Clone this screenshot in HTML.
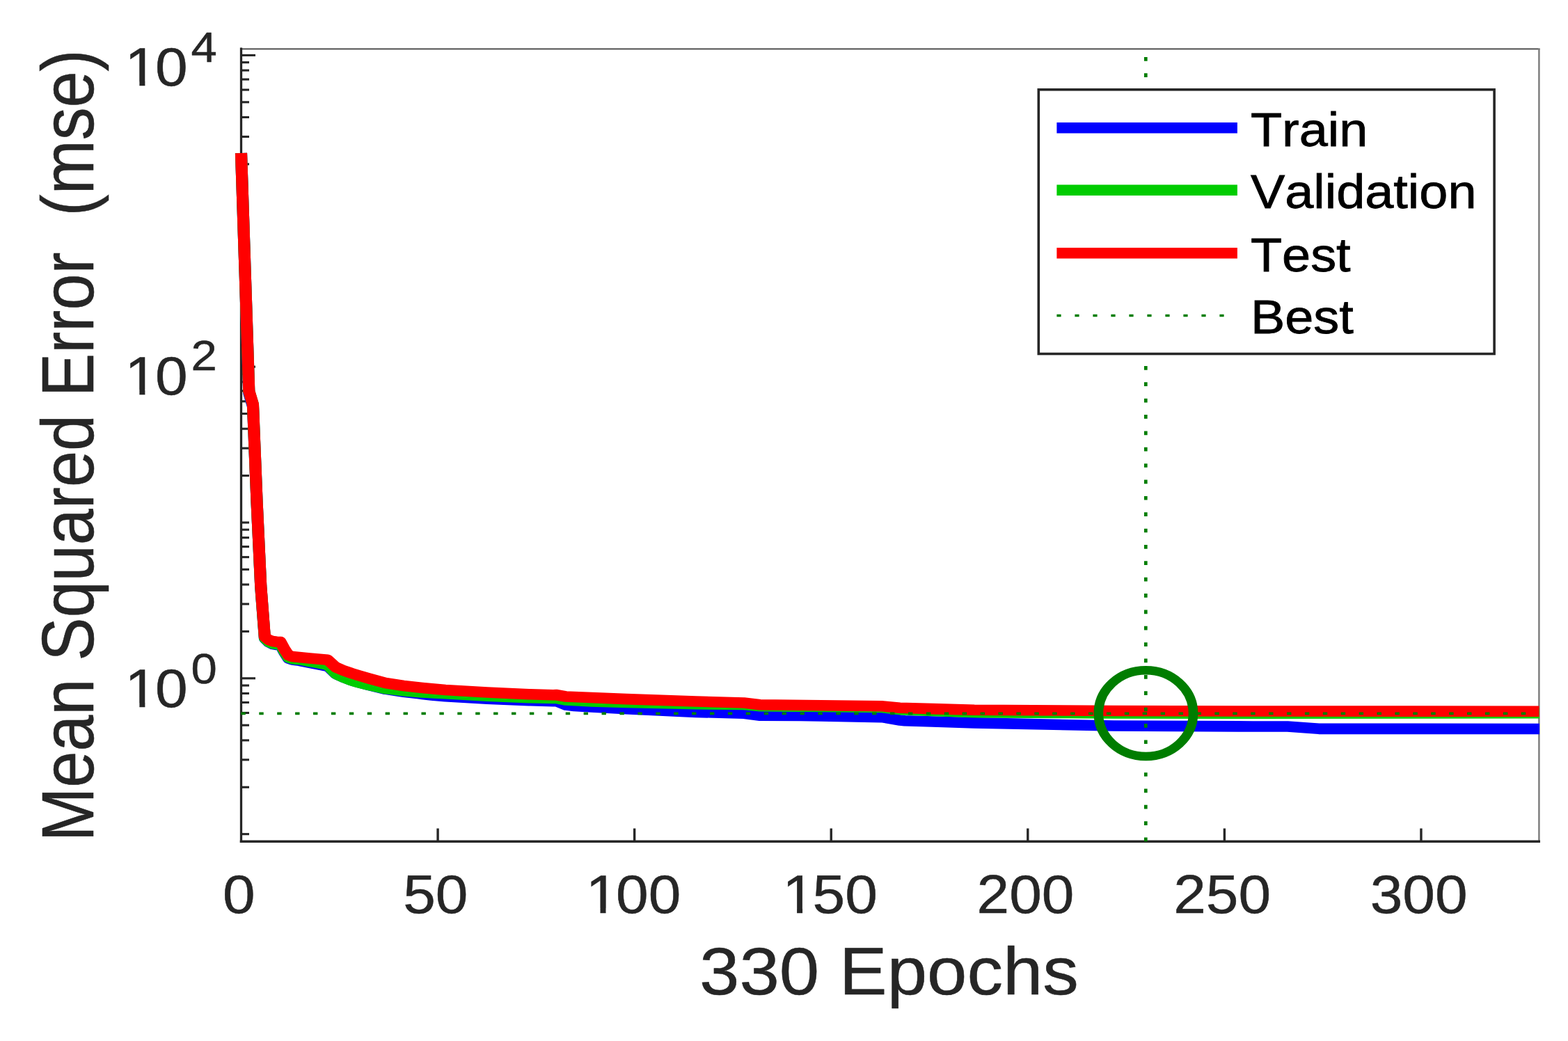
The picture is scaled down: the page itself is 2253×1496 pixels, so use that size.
<!DOCTYPE html>
<html lang="en"><head><meta charset="utf-8"><title>Training performance</title>
<style>html,body{margin:0;padding:0;background:#fff}svg{display:block}text{font-family:"Liberation Sans", sans-serif;font-kerning:none}</style>
</head><body>
<svg width="2253" height="1496" viewBox="0 0 2253 1496" role="img" aria-label="Training performance: mean squared error versus epoch">
<rect width="2253" height="1496" fill="#fff"/>
<g fill="none" stroke-linecap="butt">
<line x1="346" y1="70.4" x2="2212.6" y2="70.4" stroke="#3c3c3c" stroke-width="1.7"/>
<line x1="2211.4" y1="70" x2="2211.4" y2="1209" stroke="#7a7a7a" stroke-width="2.4"/>
</g>
<g stroke="#262626" stroke-linecap="butt">
<line x1="346" y1="1198.65" x2="358" y2="1198.65" stroke-width="3.1"/>
<line x1="346" y1="1131.26" x2="358" y2="1131.26" stroke-width="3.1"/>
<line x1="346" y1="1091.85" x2="358" y2="1091.85" stroke-width="3.1"/>
<line x1="346" y1="1063.88" x2="358" y2="1063.88" stroke-width="3.1"/>
<line x1="346" y1="1042.19" x2="358" y2="1042.19" stroke-width="3.1"/>
<line x1="346" y1="1024.46" x2="358" y2="1024.46" stroke-width="3.1"/>
<line x1="346" y1="1009.47" x2="358" y2="1009.47" stroke-width="3.1"/>
<line x1="346" y1="996.49" x2="358" y2="996.49" stroke-width="3.1"/>
<line x1="346" y1="985.04" x2="358" y2="985.04" stroke-width="3.1"/>
<line x1="346" y1="974.80" x2="367" y2="974.80" stroke-width="3.1"/>
<line x1="346" y1="907.41" x2="358" y2="907.41" stroke-width="3.1"/>
<line x1="346" y1="868.00" x2="358" y2="868.00" stroke-width="3.1"/>
<line x1="346" y1="840.03" x2="358" y2="840.03" stroke-width="3.1"/>
<line x1="346" y1="818.34" x2="358" y2="818.34" stroke-width="3.1"/>
<line x1="346" y1="800.61" x2="358" y2="800.61" stroke-width="3.1"/>
<line x1="346" y1="785.62" x2="358" y2="785.62" stroke-width="3.1"/>
<line x1="346" y1="772.64" x2="358" y2="772.64" stroke-width="3.1"/>
<line x1="346" y1="761.19" x2="358" y2="761.19" stroke-width="3.1"/>
<line x1="346" y1="750.95" x2="358" y2="750.95" stroke-width="3.1"/>
<line x1="346" y1="683.56" x2="358" y2="683.56" stroke-width="3.1"/>
<line x1="346" y1="644.15" x2="358" y2="644.15" stroke-width="3.1"/>
<line x1="346" y1="616.18" x2="358" y2="616.18" stroke-width="3.1"/>
<line x1="346" y1="594.49" x2="358" y2="594.49" stroke-width="3.1"/>
<line x1="346" y1="576.76" x2="358" y2="576.76" stroke-width="3.1"/>
<line x1="346" y1="561.77" x2="358" y2="561.77" stroke-width="3.1"/>
<line x1="346" y1="548.79" x2="358" y2="548.79" stroke-width="3.1"/>
<line x1="346" y1="537.34" x2="358" y2="537.34" stroke-width="3.1"/>
<line x1="346" y1="527.10" x2="367" y2="527.10" stroke-width="3.1"/>
<line x1="346" y1="459.71" x2="358" y2="459.71" stroke-width="3.1"/>
<line x1="346" y1="420.30" x2="358" y2="420.30" stroke-width="3.1"/>
<line x1="346" y1="392.33" x2="358" y2="392.33" stroke-width="3.1"/>
<line x1="346" y1="370.64" x2="358" y2="370.64" stroke-width="3.1"/>
<line x1="346" y1="352.91" x2="358" y2="352.91" stroke-width="3.1"/>
<line x1="346" y1="337.92" x2="358" y2="337.92" stroke-width="3.1"/>
<line x1="346" y1="324.94" x2="358" y2="324.94" stroke-width="3.1"/>
<line x1="346" y1="313.49" x2="358" y2="313.49" stroke-width="3.1"/>
<line x1="346" y1="303.25" x2="358" y2="303.25" stroke-width="3.1"/>
<line x1="346" y1="235.86" x2="358" y2="235.86" stroke-width="3.1"/>
<line x1="346" y1="196.45" x2="358" y2="196.45" stroke-width="3.1"/>
<line x1="346" y1="168.48" x2="358" y2="168.48" stroke-width="3.1"/>
<line x1="346" y1="146.79" x2="358" y2="146.79" stroke-width="3.1"/>
<line x1="346" y1="129.06" x2="358" y2="129.06" stroke-width="3.1"/>
<line x1="346" y1="114.07" x2="358" y2="114.07" stroke-width="3.1"/>
<line x1="346" y1="101.09" x2="358" y2="101.09" stroke-width="3.1"/>
<line x1="346" y1="89.64" x2="358" y2="89.64" stroke-width="3.1"/>
<line x1="346" y1="79.40" x2="367" y2="79.40" stroke-width="3.1"/>
<line x1="629.08" y1="1209" x2="629.08" y2="1190.5" stroke-width="3.4"/>
<line x1="911.65" y1="1209" x2="911.65" y2="1190.5" stroke-width="3.4"/>
<line x1="1194.23" y1="1209" x2="1194.23" y2="1190.5" stroke-width="3.4"/>
<line x1="1476.80" y1="1209" x2="1476.80" y2="1190.5" stroke-width="3.4"/>
<line x1="1759.38" y1="1209" x2="1759.38" y2="1190.5" stroke-width="3.4"/>
<line x1="2041.95" y1="1209" x2="2041.95" y2="1190.5" stroke-width="3.4"/>
</g>
<g stroke="#262626" fill="none">
<line x1="346.5" y1="68.6" x2="346.5" y2="1211" stroke-width="3.3"/>
<line x1="344.8" y1="1209.2" x2="2213" y2="1209.2" stroke-width="3.6"/>
</g>
<g transform="scale(1.1,1)" fill="none" stroke-width="15.6" stroke-linejoin="round" stroke-linecap="butt">
<path stroke="#0000ff" d="M315.00 220.00 L315.05 222.00 L320.14 392.00 L325.27 565.00 L330.41 584.00 L335.55 722.50 L340.68 843.03 L345.82 917.13 L350.91 922.72 L356.09 925.53 L361.27 926.45 L366.36 926.86 L371.55 937.37 L376.64 945.99 L381.82 948.10 L390.91 949.30 L404.55 952.38 L425.45 956.76 L428.00 957.14 L438.27 968.11 L440.00 969.02 L448.55 973.34 L458.82 977.52 L461.82 978.62 L469.09 980.87 L481.82 984.56 L503.55 990.36 L505.45 990.62 L527.27 994.35 L545.45 996.62 L551.82 997.50 L563.64 998.88 L581.82 1000.80 L636.36 1004.15 L690.91 1006.69 L722.73 1007.60 L726.36 1007.40 L739.09 1013.10 L750.00 1014.50 L772.73 1015.93 L818.18 1018.67 L909.09 1023.40 L971.82 1025.20 L992.73 1028.20 L1045.45 1028.42 L1072.73 1029.01 L1151.82 1030.60 L1175.45 1034.97 L1181.82 1035.71 L1218.18 1037.06 L1272.73 1038.90 L1454.55 1043.00 L1636.36 1044.00 L1681.82 1044.02 L1722.73 1047.35 L2010.45 1047.50 L2010.91 1047.50"/>
<path stroke="#00cc00" d="M315.00 220.01 L315.05 222.01 L320.14 392.12 L325.27 562.23 L330.41 581.34 L335.55 722.44 L340.68 842.93 L345.82 916.81 L350.91 922.18 L356.09 924.80 L361.27 925.58 L366.36 925.87 L371.55 936.25 L376.64 944.74 L381.82 946.73 L390.91 947.70 L404.55 950.55 L409.09 951.43 L425.45 954.76 L428.00 955.49 L438.27 967.87 L440.00 969.02 L448.55 973.41 L458.82 977.69 L461.82 978.82 L469.09 980.97 L481.82 984.50 L503.55 989.62 L505.45 989.82 L527.27 992.85 L545.45 994.52 L551.82 995.02 L563.64 995.68 L581.82 996.80 L636.36 1000.11 L690.91 1002.61 L722.73 1003.50 L726.36 1003.34 L739.09 1006.00 L772.73 1007.93 L818.18 1009.43 L909.09 1011.70 L971.82 1012.50 L992.73 1014.70 L1045.45 1015.12 L1072.73 1015.50 L1151.82 1016.50 L1175.45 1019.61 L1181.82 1020.01 L1218.18 1021.56 L1272.73 1023.70 L1454.55 1024.85 L1636.36 1025.20 L2010.45 1024.70 L2010.91 1024.70"/>
<path stroke="#ff0000" d="M315.00 220.00 L315.05 222.00 L320.14 392.00 L325.27 562.00 L330.41 581.00 L335.55 722.00 L340.68 842.00 L345.82 915.00 L350.91 919.50 L356.09 921.50 L361.27 922.30 L366.36 922.60 L371.55 933.00 L376.64 941.50 L381.82 943.50 L404.55 946.00 L428.00 948.20 L438.27 958.60 L448.55 963.50 L458.82 967.40 L469.09 970.90 L481.82 975.00 L503.55 981.50 L527.27 985.50 L551.82 988.50 L581.82 991.50 L636.36 995.00 L690.91 997.70 L722.73 998.70 L726.36 998.50 L739.09 1001.00 L818.18 1004.60 L909.09 1008.00 L971.82 1010.00 L992.73 1012.70 L1072.73 1013.80 L1151.82 1014.80 L1175.45 1017.20 L1218.18 1018.60 L1272.73 1020.20 L1454.55 1021.50 L1636.36 1022.00 L2010.45 1022.20"/>
</g>
<g fill="none" stroke="#007d00">
<line x1="346.4" y1="1025.40" x2="2211.5" y2="1025.40" stroke-width="3.8" stroke-dasharray="6.4 19.507"/>
<line x1="1646.30" y1="1209.3" x2="1646.30" y2="70.4" stroke-width="4.7" stroke-dasharray="5.7 17.667"/>
</g>
<g transform="scale(1.1,1)" fill="none" stroke="#007d00">
<circle cx="1496.77" cy="1025.10" r="61.9" stroke-width="12.4"/>
</g>
<rect x="1492.3" y="128.8" width="654.8" height="379.7" fill="#fff" stroke="#262626" stroke-width="3.6"/>
<g fill="none" stroke-width="15.4">
<line x1="1518.4" y1="183.7" x2="1777.9" y2="183.7" stroke="#0000ff"/>
<line x1="1518.4" y1="273.2" x2="1777.9" y2="273.2" stroke="#00cc00"/>
<line x1="1518.4" y1="363.7" x2="1777.9" y2="363.7" stroke="#ff0000"/>
<line x1="1518.4" y1="453.5" x2="1777.9" y2="453.5" stroke="#007d00" stroke-width="3.6" stroke-dasharray="6.2 19.8"/>
</g>
<text transform="translate(1796.90 210.20) scale(1.1,1.02)" font-size="67.20" fill="#000" stroke="#000" stroke-width="0.8" text-anchor="start">Train</text>
<text transform="translate(1796.90 299.30) scale(1.1,1.02)" font-size="67.20" fill="#000" stroke="#000" stroke-width="0.8" text-anchor="start">Validation</text>
<text transform="translate(1796.90 389.50) scale(1.1,1.02)" font-size="67.20" fill="#000" stroke="#000" stroke-width="0.8" text-anchor="start">Test</text>
<text transform="translate(1796.90 479.30) scale(1.1,1.02)" font-size="67.20" fill="#000" stroke="#000" stroke-width="0.8" text-anchor="start">Best</text>
<defs>
<clipPath id="c1" clipPathUnits="userSpaceOnUse"><path clip-rule="evenodd" d="M-400 -300H400V200H-400Z M5.80 -6.29H21.91V3.00H5.80Z M29.15 -6.29H44.66V3.00H29.15Z"/></clipPath>
</defs>
<text transform="translate(343.20 1311.90) scale(1.1,1.01)" font-size="76.20" fill="#262626" stroke="#262626" stroke-width="0.5" text-anchor="middle">0</text>
<text transform="translate(625.78 1311.90) scale(1.1,1.01)" font-size="76.20" fill="#262626" stroke="#262626" stroke-width="0.5" text-anchor="middle">50</text>
<text transform="translate(838.43 1311.90) scale(1.1,1.01)" clip-path="url(#c1)" dx="3.00 -3.00" font-size="76.20" fill="#262626" stroke="#262626" stroke-width="0.5">100</text>
<text transform="translate(1121.00 1311.90) scale(1.1,1.01)" clip-path="url(#c1)" dx="3.00 -3.00" font-size="76.20" fill="#262626" stroke="#262626" stroke-width="0.5">150</text>
<text transform="translate(1473.50 1311.90) scale(1.1,1.01)" font-size="76.20" fill="#262626" stroke="#262626" stroke-width="0.5" text-anchor="middle">200</text>
<text transform="translate(1756.08 1311.90) scale(1.1,1.01)" font-size="76.20" fill="#262626" stroke="#262626" stroke-width="0.5" text-anchor="middle">250</text>
<text transform="translate(2038.65 1311.90) scale(1.1,1.01)" font-size="76.20" fill="#262626" stroke="#262626" stroke-width="0.5" text-anchor="middle">300</text>
<text transform="translate(176.30 123.30) scale(1.1,1.01)" clip-path="url(#c1)" dx="3.00 -3.00" font-size="76.20" fill="#262626" stroke="#262626" stroke-width="0.5">10<tspan font-size="60.96" dx="4.60" dy="-34.36">4</tspan></text>
<text transform="translate(176.30 566.70) scale(1.1,1.01)" clip-path="url(#c1)" dx="3.00 -3.00" font-size="76.20" fill="#262626" stroke="#262626" stroke-width="0.5">10<tspan font-size="60.96" dx="4.60" dy="-34.36">2</tspan></text>
<text transform="translate(176.30 1016.40) scale(1.1,1.01)" clip-path="url(#c1)" dx="3.00 -3.00" font-size="76.20" fill="#262626" stroke="#262626" stroke-width="0.5">10<tspan font-size="60.96" dx="4.60" dy="-34.36">0</tspan></text>
<text transform="translate(1277.50 1428.50) scale(1.1,1.03)" font-size="93.80" fill="#262626" stroke="#262626" stroke-width="0.5" text-anchor="middle">330 Epochs</text>
<text transform="translate(134 640.5) scale(1.1220,1) rotate(-90)" font-size="93.52" fill="#262626" stroke="#262626" stroke-width="0.5" text-anchor="middle" xml:space="preserve" style="white-space:pre">Mean Squared Error  (mse)</text>
</svg>
</body></html>
